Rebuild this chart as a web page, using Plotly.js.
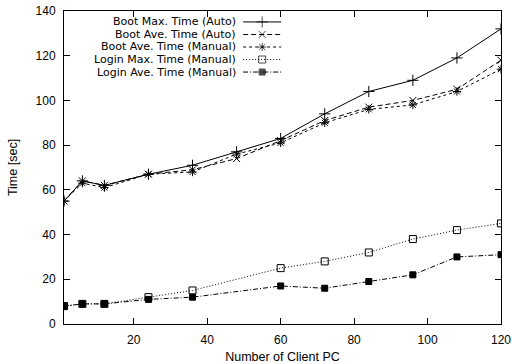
<!DOCTYPE html>
<html>
<head>
<meta charset="utf-8">
<script src="https://cdn.plot.ly/plotly-3.0.1.min.js"></script>
<style>html,body{margin:0;padding:0;background:#fff;}#chart{width:512px;height:364px;}</style>
</head>
<body>
<div id="chart"></div>
<script>
// ---- data ----
var xBoot = [1, 6, 12, 24, 36, 48, 60, 72, 84, 96, 108, 120];
var bootMaxAuto = [55, 64, 62, 67, 71, 77, 83, 94, 104, 109, 119, 132];
var bootAveAuto = [55, 64, 62, 67, 69, 74, 82, 91, 97, 100, 105, 118];
var bootAveManual = [55, 63, 61, 67, 68, 76, 81, 90, 96, 98, 104, 114];
var xLogin = [1, 6, 12, 24, 36, 60, 72, 84, 96, 108, 120];
var loginMaxManual = [8, 9, 9, 12, 15, 25, 28, 32, 38, 42, 45];
var loginAveManual = [8, 9, 9, 11, 12, 17, 16, 19, 22, 30, 31];
var seriesNames = ["Boot Max. Time (Auto)", "Boot Ave. Time (Auto)", "Boot Ave. Time (Manual)", "Login Max. Time (Manual)", "Login Ave. Time (Manual)"];
var xTicks = [20, 40, 60, 80, 100, 120];
var yTicks = [0, 20, 40, 60, 80, 100, 120, 140];

// ---- styles ----
var styles = [
  {dash: "solid", symbol: "cross-thin-open", size: 8},
  {dash: "5px,3px", symbol: "x-thin-open", size: 7},
  {dash: "3px,3px", symbol: "asterisk-open", size: 7},
  {dash: "1px,2px", symbol: "square-open", size: 7},
  {dash: "5px,2px,1px,2px", symbol: "square", size: 6}
];
var xs = [xBoot, xBoot, xBoot, xLogin, xLogin];
var ys = [bootMaxAuto, bootAveAuto, bootAveManual, loginMaxManual, loginAveManual];

var traces = [];
for (var i = 0; i < 5; i++) {
  traces.push({
    x: xs[i], y: ys[i], type: "scatter", mode: "lines+markers",
    name: seriesNames[i], showlegend: false,
    line: {color: "#000", width: 1, dash: styles[i].dash},
    marker: {symbol: styles[i].symbol, size: styles[i].size, color: "#000",
             line: {color: "#000", width: 1}}
  });
}

// custom gnuplot-style key (text right-aligned, sample on the right)
var keyRows = [0.965, 0.925, 0.885, 0.845, 0.805];
var keyX0 = 0.41, keyX1 = 0.497, keyTextX = 0.396;
var annotations = [];
for (var j = 0; j < 5; j++) {
  traces.push({
    x: [keyX0, (keyX0 + keyX1) / 2, keyX1], y: [keyRows[j], keyRows[j], keyRows[j]],
    xaxis: "x2", yaxis: "y2", type: "scatter", mode: "lines+markers",
    showlegend: false, hoverinfo: "skip",
    line: {color: "#000", width: 1, dash: styles[j].dash},
    marker: {symbol: styles[j].symbol, size: [0, styles[j].size, 0], color: "#000",
             line: {color: "#000", width: 1}}
  });
  annotations.push({
    xref: "paper", yref: "paper", x: keyTextX, y: keyRows[j],
    xanchor: "right", yanchor: "middle", text: seriesNames[j], showarrow: false,
    borderpad: 0,
    font: {family: "DejaVu Sans, Liberation Sans, sans-serif", size: 11, color: "#000"}
  });
}

var axisCommon = {
  showgrid: false, zeroline: false, showline: true, linecolor: "#000", linewidth: 1,
  mirror: "ticks", ticks: "inside", ticklen: 6, tickcolor: "#000", tickwidth: 1,
  tickfont: {family: "Liberation Sans, Arial, sans-serif", size: 12, color: "#000"}
};

var layout = {
  width: 512, height: 364,
  margin: {l: 64, r: 11, t: 11, b: 40},
  paper_bgcolor: "#fff", plot_bgcolor: "#fff",
  font: {family: "Liberation Sans, Arial, sans-serif", size: 12, color: "#000"},
  xaxis: Object.assign({}, axisCommon, {
    range: [1, 120], tickmode: "array", tickvals: xTicks, ticklabelstandoff: 5,
    title: {text: "Number of Client PC", standoff: 9, font: {size: 12.5}}
  }),
  yaxis: Object.assign({}, axisCommon, {
    range: [0, 140], tickmode: "array", tickvals: yTicks, ticklabelstandoff: 5,
    title: {text: "Time [sec]", standoff: 15, font: {size: 12.5}}
  }),
  xaxis2: {overlaying: "x", range: [0, 1], visible: false, fixedrange: true},
  yaxis2: {overlaying: "y", range: [0, 1], visible: false, fixedrange: true},
  annotations: annotations,
  showlegend: false
};

Plotly.newPlot("chart", traces, layout, {displayModeBar: false, staticPlot: true});
</script>
</body>
</html>
